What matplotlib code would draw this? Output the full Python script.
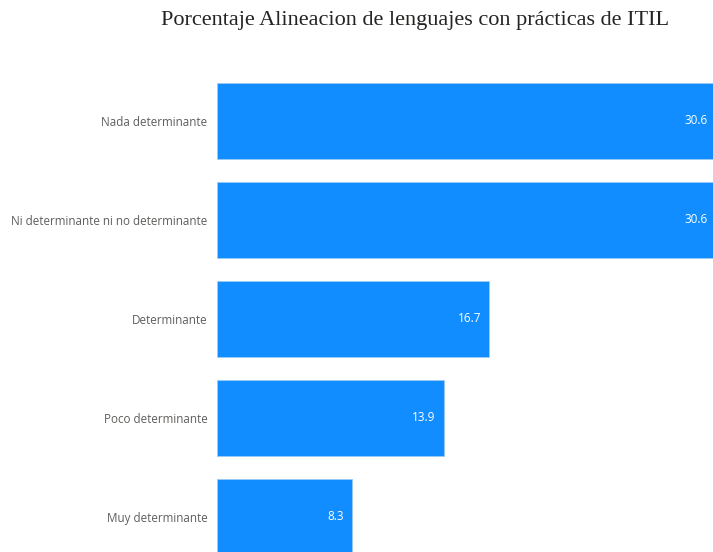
import matplotlib.pyplot as plt

categorias = ['Nada determinante', 'Ni determinante ni no determinante',
              'Determinante', 'Poco determinante', 'Muy determinante']
valores = [30.6, 30.6, 16.7, 13.9, 8.3]

W, H = 713, 552
fig = plt.figure(figsize=(W / 100, H / 100), dpi=100)

# ejes en pixeles: izquierda 217, el eje sale un poco por la derecha
left, right = 217, 716
top, bottom = 60, 552
ax = fig.add_axes([left / W, 1 - bottom / H, (right - left) / W, (bottom - top) / H])

y = list(range(len(categorias)))
ax.barh(y, valores, height=0.768, color='#118DFF', edgecolor='#9CCBF5', linewidth=0.6)
ax.set_xlim(0, 30.6)
ax.set_ylim((552 - 121) / 99, (60 - 121) / 99)

for i, v in zip(y, valores):
    ax.annotate('%.1f' % v, xy=(v, i), xytext=(-6, 0), textcoords='offset points',
                ha='right', va='center', color='white', fontsize=8.5, family='Open Sans')

ax.set_yticks(y)
ax.set_yticklabels(categorias, fontsize=8.4, color='#605E5C', family='Open Sans')
ax.tick_params(axis='y', length=0, pad=7)
ax.set_xticks([])
for s in ax.spines.values():
    s.set_visible(False)

fig.text(415 / W, 1 - 20 / H, 'Porcentaje Alineacion de lenguajes con prácticas de ITIL',
         ha='center', va='center', fontsize=16, family='Liberation Serif', color='#252423')

fig.savefig('out.png', dpi=100)
